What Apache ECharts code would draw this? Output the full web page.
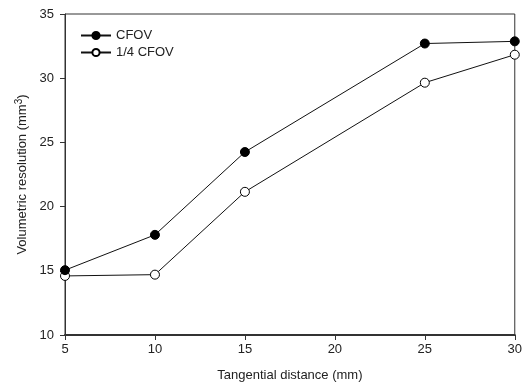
<!DOCTYPE html>
<html>
<head>
<meta charset="utf-8">
<script src="https://cdn.jsdelivr.net/npm/echarts@6/dist/echarts.min.js"></script>
<style>
  html, body { margin: 0; padding: 0; background: #fff; }
  #chart { width: 525px; height: 388px; }
</style>
</head>
<body>
<div id="chart"></div>
<script>
// Tangential distance (mm)
const distances = [5, 10, 15, 25, 30];
// Volumetric resolution (mm^3)
const cfov = [15.05, 17.8, 24.25, 32.7, 32.87];
const quarterCfov = [14.6, 14.7, 21.15, 29.65, 31.83];
const seriesNames = ['CFOV', '1/4 CFOV'];

const pairs = (xs, ys) => xs.map((x, i) => [x, ys[i]]);

const font = 'Liberation Sans, Arial, sans-serif';
const chart = echarts.init(document.getElementById('chart'), null, { renderer: 'canvas' });

chart.setOption({
  backgroundColor: '#fff',
  animation: false,
  grid: {
    left: 65, right: 9, top: 14, bottom: 53,
    show: true, borderColor: '#333', borderWidth: 1
  },
  legend: {
    orient: 'vertical',
    left: 75, top: 24,
    itemWidth: 30, itemHeight: 9, itemGap: 4,
    textStyle: { fontFamily: font, fontSize: 13, color: '#222' },
    data: seriesNames
  },
  xAxis: {
    type: 'value',
    min: 5, max: 30, interval: 5,
    name: 'Tangential distance (mm)',
    nameLocation: 'middle', nameGap: 34,
    nameTextStyle: { fontFamily: font, fontSize: 13, color: '#222' },
    axisLine: { lineStyle: { color: '#333', width: 2 } },
    axisTick: { show: true, inside: false, length: 5, lineStyle: { color: '#333' } },
    axisLabel: { fontFamily: font, fontSize: 13, color: '#222', margin: 8 },
    splitLine: { show: false }
  },
  yAxis: {
    type: 'value',
    min: 10, max: 35, interval: 5,
    name: 'Volumetric resolution (mm{sup|3})',
    nameLocation: 'middle', nameGap: 35, nameRotate: 90,
    nameTextStyle: {
      fontFamily: font, fontSize: 13, color: '#222',
      rich: { sup: { fontFamily: font, fontSize: 10, color: '#222', verticalAlign: 'top', padding: [0, 0, 6, 0] } }
    },
    axisLine: { show: true, lineStyle: { color: '#333', width: 1 } },
    axisTick: { show: true, inside: false, length: 5, lineStyle: { color: '#333' } },
    axisLabel: { fontFamily: font, fontSize: 13, color: '#222', margin: 11 },
    splitLine: { show: false }
  },
  series: [
    {
      name: seriesNames[0],
      type: 'line',
      data: pairs(distances, cfov),
      symbol: 'circle', symbolSize: 9,
      lineStyle: { color: '#111', width: 1 },
      itemStyle: { color: '#000', borderColor: '#000', borderWidth: 1 },
      z: 3
    },
    {
      name: seriesNames[1],
      type: 'line',
      data: pairs(distances, quarterCfov),
      symbol: 'circle', symbolSize: 9,
      lineStyle: { color: '#111', width: 1 },
      itemStyle: { color: '#fff', borderColor: '#000', borderWidth: 1 },
      z: 2
    }
  ]
});
</script>
</body>
</html>
